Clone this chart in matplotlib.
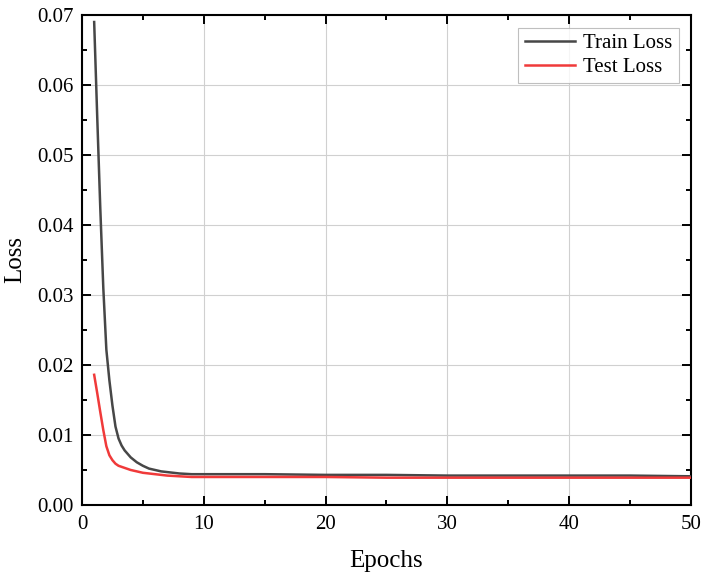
import matplotlib
matplotlib.use('Agg')
import matplotlib.pyplot as plt
from matplotlib.ticker import MultipleLocator

# Loss values (fractional epochs in the steep part)
train_epochs = [1.0, 1.25, 1.5, 1.75, 2.0, 2.25, 2.5, 2.75, 3.0, 3.25, 3.5, 4.0, 4.5, 5.0,
                5.5, 6.0, 6.5, 7.0, 7.5, 8.0, 9.0, 10, 15, 20, 25, 30, 35, 40, 45, 50]
train_loss = [0.0690, 0.0555, 0.0425, 0.0310, 0.0222, 0.0178, 0.0142, 0.0112, 0.0095,
              0.0085, 0.0078, 0.0068, 0.0061, 0.0056, 0.0052, 0.0050, 0.0048, 0.0047,
              0.0046, 0.0045, 0.0044, 0.0044, 0.0044, 0.0043, 0.0043, 0.0042, 0.0042,
              0.0042, 0.0042, 0.0041]

test_epochs = [1.0, 1.25, 1.5, 1.75, 2.0, 2.25, 2.5, 2.75, 3.0, 3.5, 4.0, 5.0, 6.0,
               7.0, 8.0, 9.0, 10, 15, 20, 25, 30, 35, 40, 45, 50]
test_loss = [0.0186, 0.0160, 0.0133, 0.0107, 0.0084, 0.0071, 0.0064, 0.0059, 0.0056,
             0.0053, 0.0050, 0.0046, 0.0044, 0.0042, 0.0041, 0.0040, 0.0040, 0.0040,
             0.0040, 0.0039, 0.0039, 0.0039, 0.0039, 0.0039, 0.0039]

plt.rcParams['font.family'] = ['Liberation Serif', 'DejaVu Serif']

fig = plt.figure(figsize=(7.08, 5.84), dpi=100)
ax = fig.add_axes([0.1158, 0.1353, 0.8602, 0.839])

ax.plot(train_epochs, train_loss, color='#474747', linewidth=1.8, label='Train Loss', zorder=3)
ax.plot(test_epochs, test_loss, color='#f03a3a', linewidth=1.8, label='Test Loss', zorder=3)

ax.set_xlim(0, 50)
ax.set_ylim(0, 0.07)
ax.xaxis.set_major_locator(MultipleLocator(10))
ax.xaxis.set_minor_locator(MultipleLocator(5))
ax.yaxis.set_major_locator(MultipleLocator(0.01))
ax.yaxis.set_minor_locator(MultipleLocator(0.005))
ax.yaxis.set_major_formatter(plt.FormatStrFormatter('%.2f'))

ax.grid(True, which='major', color='#d0d0d0', linewidth=0.8)
ax.set_axisbelow(True)

ax.tick_params(which='both', direction='in', top=True, right=True, width=1.4, labelsize=15)
ax.tick_params(which='major', length=6.5)
ax.tick_params(which='minor', length=3.6)
ax.tick_params(axis='x', which='major', pad=7)
ax.tick_params(axis='y', which='major', pad=6)
for s in ax.spines.values():
    s.set_linewidth(1.5)

ax.set_xlabel('Epochs', fontsize=18, labelpad=12)
ax.set_ylabel('Loss', fontsize=18, labelpad=8)

leg = ax.legend(loc='upper right', fontsize=15, frameon=True, fancybox=False,
                edgecolor='#b0b0b0', handlelength=2.4, borderpad=0.3,
                labelspacing=0.2, handletextpad=0.4, borderaxespad=0.6)
leg.get_frame().set_linewidth(0.8)

plt.savefig('out.png', dpi=100)
